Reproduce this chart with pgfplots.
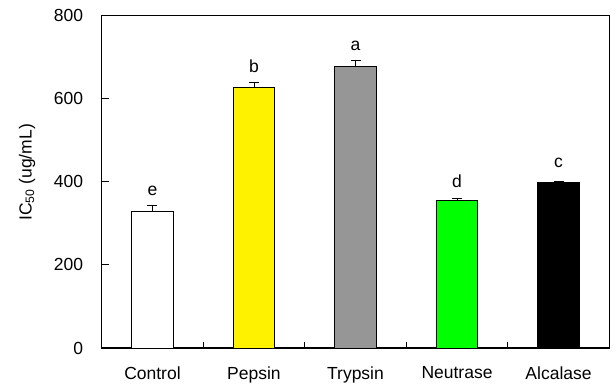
\documentclass[border=0pt]{standalone}
\usepackage{pgfplots}
\pgfplotsset{compat=1.18}
\usepackage{fontspec}
\setmainfont{Liberation Sans}
\definecolor{bargray}{RGB}{150,150,150}
\newcommand{\chartfont}{\fontsize{17.5bp}{21bp}\selectfont}
\begin{document}
\begin{tikzpicture}[x=1bp,y=1bp]
\path (0,0) rectangle (616,383);
\begin{axis}[
  at={(101.7bp,35bp)}, anchor=south west,
  scale only axis, width=507.6bp, height=332.5bp,
  xmin=-0.5, xmax=4.5, ymin=0, ymax=800,
  ybar, bar width=0.41, bar shift=0pt,
  xtick={0,1,2,3,4},
  xticklabels={Control,Pepsin,Trypsin,Neutrase,Alcalase},
  minor xtick={0.5,1.5,2.5,3.5},
  ytick={0,200,400,600,800},
  tick align=inside, xtick pos=bottom, ytick pos=left,
  major x tick style={draw=none},
  minor tick length=6bp, major tick length=7bp,
  every tick/.style={black, line width=0.8pt},
  axis line style={line width=1.1pt},
  font=\chartfont,
  ticklabel style={font=\chartfont},
  /pgf/number format/assume math mode=true,
  yticklabel style={xshift=-15bp},
  xticklabel style={anchor=north, yshift=-15bp},
  ylabel={IC\textsubscript{50} (ug/mL)},
  ylabel style={at={(axis description cs:-0.147,0.528)}, anchor=center},
  error bars/y dir=plus, error bars/y explicit,
  error bars/error mark options={rotate=90, mark size=5bp, line width=0.8pt},
  error bars/error bar style={line width=0.8pt},
]
\addplot[fill=white, draw=black, line width=0.8pt] coordinates {(0,329) +- (0,15)};
\addplot[fill=yellow, draw=black, line width=0.8pt] coordinates {(1,627) +- (0,11)};
\addplot[fill=bargray, draw=black, line width=0.8pt] coordinates {(2,678) +- (0,13)};
\addplot[fill=green, draw=black, line width=0.8pt] coordinates {(3,354) +- (0,7)};
\addplot[fill=black, draw=black, line width=0.8pt] coordinates {(4,398) +- (0,3)};
\node[font=\chartfont] at (axis cs:0,378) {e};
\node[font=\chartfont] at (axis cs:1,677) {b};
\node[font=\chartfont] at (axis cs:2,726) {a};
\node[font=\chartfont] at (axis cs:3,402) {d};
\node[font=\chartfont] at (axis cs:4,445) {c};
\end{axis}
\end{tikzpicture}
\end{document}
